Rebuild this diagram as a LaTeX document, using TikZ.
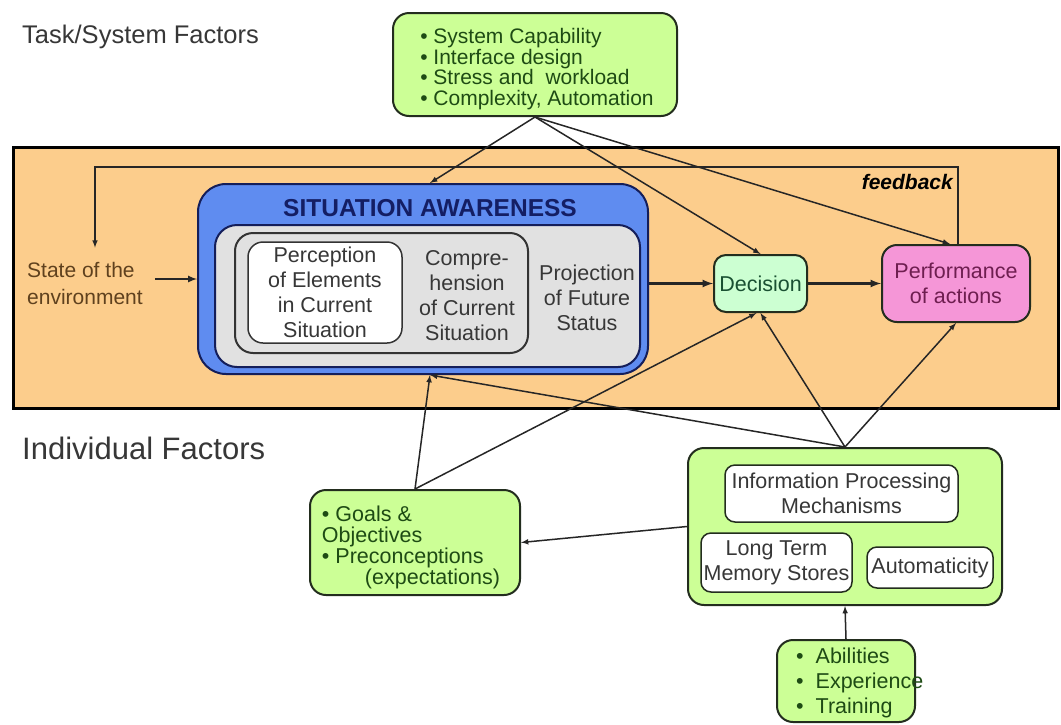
\documentclass[tikz,border=0pt]{standalone}
\usepackage{fontspec}
\setmainfont{Liberation Sans}
\usepackage{tikz}
\definecolor{bandorange}{RGB}{252,205,140}
\definecolor{lime}{RGB}{204,255,150}
\definecolor{sablue}{RGB}{95,140,240}
\definecolor{saedge}{RGB}{20,30,90}
\definecolor{grayfill}{RGB}{225,225,225}
\definecolor{decfill}{RGB}{204,255,210}
\definecolor{perffill}{RGB}{245,150,215}
\definecolor{textgreen}{RGB}{30,75,20}
\definecolor{textnavy}{RGB}{20,30,100}
\definecolor{textgray}{RGB}{55,55,55}
\definecolor{textbrown}{RGB}{95,65,30}
\definecolor{textpurple}{RGB}{110,30,80}
\definecolor{textdec}{RGB}{25,80,50}
\definecolor{boxedge}{RGB}{35,45,30}
\tikzset{
  greenbox/.style={draw=boxedge, fill=lime, line width=2pt, rounded corners=16pt,
    text=textgreen, align=left, inner sep=0pt,
    font=\fontsize{21}{20.7}\selectfont},
  greentext/.style={text=textgreen, align=left, inner sep=0pt},
  whitebox/.style={draw=boxedge, fill=white, line width=1.5pt, rounded corners=10pt,
    text=textgray, align=center, inner sep=0pt,
    font=\fontsize{21.5}{25}\selectfont},
  satext/.style={text=textgray, align=center, inner sep=0pt,
    font=\fontsize{21.5}{25}\selectfont},
  heading/.style={anchor=west, inner sep=0pt, text=textgray},
  link/.style={-latex, line width=1.5pt, draw=black!85},
  mainlink/.style={-latex, line width=2.5pt, draw=black!85}
}

\begin{document}
\begin{tikzpicture}[x=1pt,y=-1pt]
            \useasboundingbox (0,0) rectangle (1061,724);
            
            % Task/System band
            \filldraw[fill=bandorange, draw=black, line width=3pt] (13,147) rectangle (1058,408);
            
            % Headings
            \node[heading, font=\fontsize{25.5}{30}\selectfont] (taskhead) at (22,37) {Task/System Factors};
            \node[heading, font=\fontsize{31}{36}\selectfont] (indhead) at (22,448) {Individual Factors};
            
            % Task factors
            \node[greenbox, minimum width=284pt, minimum height=103pt] (task) at (535,64.5) {};
            \node[greentext, font=\fontsize{21}{20.7}\selectfont] (tasktext) at (537,69)
                {• System Capability\\• Interface design\\• Stress and \ workload\\• Complexity, Automation};
            
            % Situation awareness
            \node[draw=saedge, fill=sablue, line width=2pt, rounded corners=28pt,
                minimum width=450pt, minimum height=190pt] (sa) at (423,279) {};
            \node[draw=saedge, fill=grayfill, line width=2pt, rounded corners=22pt,
                minimum width=425pt, minimum height=142pt] (grayarea) at (427.5,296) {};
            \node[draw=black!80, fill=grayfill, line width=2pt, rounded corners=18pt,
                minimum width=293pt, minimum height=120pt] (comp) at (381.5,293) {};
            \node[whitebox, draw=black!80, rounded corners=15pt,
                minimum width=154pt, minimum height=101pt] (perc) at (325,292.5)
                {Perception\\of Elements\\in Current\\Situation};
            \node[satext] (comptext) at (467,295.5) {Compre-\\hension\\of Current\\Situation};
            \node[satext] (proj) at (587,297.5) {Projection\\of Future\\Status};
            \node[text=textnavy, font=\fontsize{24.5}{28}\selectfont\bfseries] (satitle) at (430,208)
                {SITUATION AWARENESS};
            
            % Decision and action
            \node[draw=boxedge, fill=decfill, line width=2pt, rounded corners=12pt, text=textdec,
                font=\fontsize{21.5}{25}\selectfont,
                minimum width=93pt, minimum height=57pt] (dec) at (760.5,283.5) {Decision};
            \node[draw=boxedge, fill=perffill, line width=2pt, rounded corners=15pt, text=textpurple,
                align=center, font=\fontsize{21.5}{25}\selectfont,
                minimum width=148pt, minimum height=77pt] (perf) at (956,283.5) {Performance\\of actions};
            
            % Environment
            \node[text=textbrown, align=left, inner sep=0pt, font=\fontsize{21}{27}\selectfont]
                (state) at (85,283) {State of the\\environment};
            
            % Feedback
            \node[anchor=east, inner sep=0pt, font=\fontsize{21}{21}\selectfont\bfseries\itshape]
                (fbtext) at (953,182) {feedback};
            \coordinate (fbcorner) at (95,167);
            \draw[link, shorten >=14pt] ([xshift=2pt]perf.north) |- (fbcorner) -- (fbcorner |- state.north);
            
            % Individual factors
            \node[greenbox, minimum width=314pt, minimum height=157pt] (ind) at (845,526.5) {};
            \node[whitebox, minimum width=233pt, minimum height=57pt] (info) at (841.5,493.5)
                {Information Processing\\Mechanisms};
            \node[whitebox, minimum width=151pt, minimum height=59pt] (ltm) at (776.5,562.5)
                {Long Term\\Memory Stores};
            \node[whitebox, minimum width=126pt, minimum height=41pt] (auto) at (930,567.5) {Automaticity};
            
            \node[greenbox, minimum width=210pt, minimum height=105pt] (goals) at (415,542.5) {};
            \node[greentext, font=\fontsize{21.5}{21}\selectfont]
                (goalstext) at (411,547) {• Goals \&\\Objectives\\• Preconceptions\\\hspace*{2em}(expectations)};
            
            \node[greenbox, minimum width=138pt, minimum height=82pt] (abil) at (846,681) {};
            \node[greentext, anchor=west, font=\fontsize{21.5}{25}\selectfont]
                (abiltext) at (796,683) {•\ \ Abilities\\•\ \ Experience\\•\ \ Training};
            
            % Influences
            \draw[link] (task.south) -- ([xshift=7pt]sa.north);
            \draw[link] (task.south) -- (dec.north);
            \draw[link] (task.south) -- ([xshift=-6pt]perf.north);
            \draw[link] (ind.north) -- ([xshift=7pt]sa.south);
            \draw[link] (ind.north) -- (dec.south);
            \draw[link] (ind.north) -- (perf.south);
            \draw[link] (goals.north) -- ([xshift=7pt]sa.south);
            \draw[link] (goals.north) -- ([xshift=-4pt]dec.south);
            \draw[link] (ind.west) -- (goals.east);
            \draw[link] (abil.north) -- (ind.south);
            
            % Main flow
            \draw[mainlink, line width=2pt, shorten <=12pt] (state.east |- sa.west) -- (sa.west);
            \draw[mainlink] (sa.east |- dec.west) -- (dec.west);
            \draw[mainlink] (dec) -- (perf);
        \end{tikzpicture}
\end{document}
